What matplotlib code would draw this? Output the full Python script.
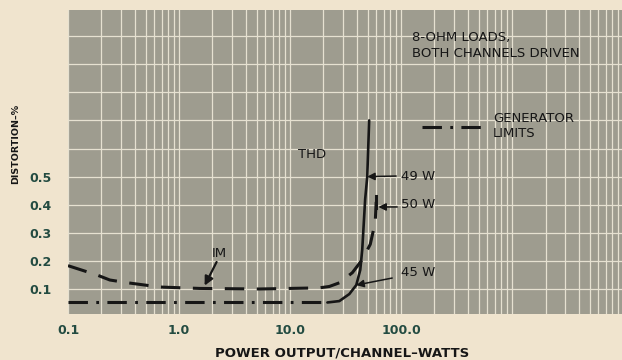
import matplotlib
matplotlib.use('Agg')
import matplotlib.pyplot as plt
import numpy as np
from matplotlib.ticker import FixedLocator, NullFormatter

PAPER = '#f0e4ce'
PLOT_BG = '#9e9c8f'
GRID = '#e6e1d1'
INK = '#161616'
TICK_INK = '#234b41'

# generator residual (dash-dot), flat up to where THD takes over
gen_watts = [0.1, 21.7]
gen_dist = [0.052, 0.052]

# THD above the generator floor
thd_watts = [21.7, 27.8, 34.2, 39.5, 42.9, 44.7, 47.5, 49.6, 51.6]
thd_dist = [0.052, 0.057, 0.082, 0.114, 0.168, 0.24, 0.42, 0.50, 0.70]

# IM distortion
im_watts = [0.1, 0.182, 0.238, 0.346, 0.67, 1.53, 5.3, 18.4, 22.6, 27.8, 36.4, 44.8, 52.8, 58.5, 59.7]
im_dist = [0.183, 0.150, 0.132, 0.122, 0.107, 0.102, 0.100, 0.104, 0.109, 0.122, 0.158, 0.205, 0.259, 0.338, 0.41]

x_major = [0.1, 1.0, 10.0, 100.0, 1000.0]
x_labels = ['0.1', '1.0', '10.0', '100.0', '']
y_grid = [0.1, 0.2, 0.3, 0.4, 0.5, 0.6, 0.7, 0.8, 0.9, 1.0]
y_labels = ['0.1', '0.2', '0.3', '0.4', '0.5', '', '', '', '', '']

plt.rcParams['font.family'] = ['DejaVu Sans']
plt.rcParams['lines.scale_dashes'] = False

fig = plt.figure(figsize=(6.22, 3.6), dpi=100, facecolor=PAPER)
ax = fig.add_axes([68 / 622, 46 / 360, 554 / 622, 304 / 360])
ax.set_facecolor(PLOT_BG)
ax.set_xscale('log')
ax.set_xlim(0.1, 10 ** 3.99)
ax.set_ylim(0.011, 1.093)

minor = [m * 10.0 ** e for e in range(-1, 4) for m in range(2, 10)]
ax.xaxis.set_major_locator(FixedLocator(x_major))
ax.xaxis.set_minor_locator(FixedLocator(minor))
ax.xaxis.set_minor_formatter(NullFormatter())
ax.set_xticklabels(x_labels)
ax.set_yticks(y_grid)
ax.set_yticklabels(y_labels)

ax.grid(True, which='both', axis='x', color=GRID, lw=0.9)
ax.grid(True, which='major', axis='y', color=GRID, lw=0.9)
ax.tick_params(which='both', length=0)
ax.tick_params(axis='x', pad=7)
ax.tick_params(axis='y', pad=12)
for lab in ax.get_xticklabels() + ax.get_yticklabels():
    lab.set_fontsize(9)
    lab.set_fontweight('bold')
    lab.set_color(TICK_INK)
for s in ax.spines.values():
    s.set_visible(False)

ax.plot(gen_watts, gen_dist, color=INK, lw=2.2, dashes=(14, 6, 2, 6), solid_capstyle='butt')
ax.plot(thd_watts, thd_dist, color=INK, lw=1.9, solid_capstyle='round')
ax.plot(im_watts, im_dist, color=INK, lw=2.2, dashes=(14, 9), dash_capstyle='butt')
# end tick on the IM curve
ax.plot([im_watts[-1]] * 2, [im_dist[-1] - 0.02, im_dist[-1] + 0.02], color=INK, lw=2.2)

ax.set_xlabel('POWER OUTPUT/CHANNEL\u2013WATTS', fontsize=9.5, fontweight='bold', color=INK)
ax.xaxis.set_label_coords(0.495, -0.107)
ax.set_ylabel('DISTORTION\u2013%', fontsize=6.8, fontweight='bold', color=INK)
ax.yaxis.set_label_coords(-0.086, 0.56)

txt = dict(fontsize=9.5, color=INK)
ax.text(126, 1.018, '8-OHM LOADS,\nBOTH CHANNELS DRIVEN', va='top', ha='left', linespacing=1.25, **txt)
ax.plot([155, 582], [0.677, 0.677], color=INK, lw=2.2, dashes=(14, 6, 2, 6))
ax.text(671, 0.730, 'GENERATOR\nLIMITS', va='top', ha='left', linespacing=1.2, **txt)
ax.text(11.9, 0.580, 'THD', va='center', ha='left', **txt)

arrow = dict(arrowstyle='-|>', color=INK, lw=1.1, mutation_scale=11, shrinkA=0, shrinkB=0)
ax.annotate('', xy=(thd_watts[7], thd_dist[7]), xytext=(90.4, 0.502), arrowprops=arrow)
ax.text(100, 0.502, '49 W', va='center', ha='left', **txt)
ax.annotate('', xy=(62.5, 0.392), xytext=(92.3, 0.392), arrowprops=arrow)
ax.text(100, 0.399, '50 W', va='center', ha='left', **txt)
ax.annotate('', xy=(thd_watts[3], thd_dist[3]), xytext=(83.2, 0.139), arrowprops=arrow)
ax.text(100, 0.157, '45 W', va='center', ha='left', **txt)
ax.annotate('', xy=(1.70, 0.112), xytext=(2.18, 0.196),
            arrowprops=dict(arrowstyle='-|>', color=INK, lw=1.6, mutation_scale=13, shrinkA=0, shrinkB=0))
ax.text(2.32, 0.228, 'IM', va='center', ha='center', **txt)

fig.savefig('out.png', dpi=100, facecolor=PAPER)
